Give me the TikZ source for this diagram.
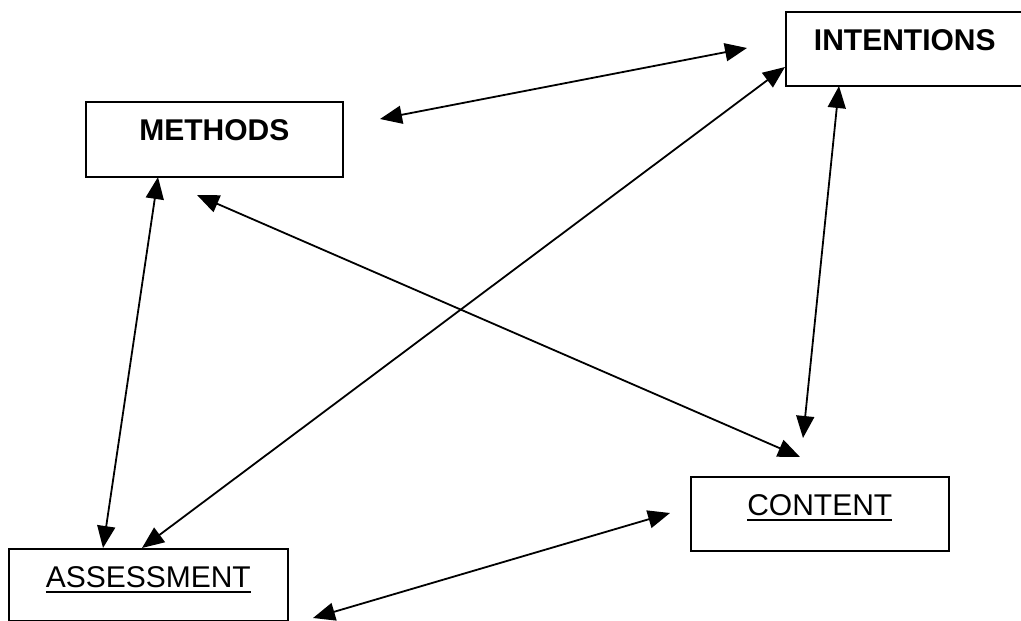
\documentclass[tikz,border=0pt]{standalone}
\usepackage{fontspec}
\setmainfont{Liberation Sans}
\usetikzlibrary{arrows.meta}
\newcommand\myul[1]{\setbox0\hbox{#1}\rlap{\rule[-5.5pt]{\wd0}{2pt}}\box0}
\tikzset{
  box/.style={draw, line width=1.6pt, inner xsep=0pt, inner ysep=0pt,
    font=\fontsize{30}{36}\selectfont, text height=39pt},
  link/.style={line width=1.8pt, {Triangle[length=22pt,width=18pt]}-{Triangle[length=22pt,width=18pt]}}
}
\begin{document}
\begin{tikzpicture}[x=1pt,y=-1pt]
\useasboundingbox (0,0) rectangle (1021,621);
\node[box, minimum width=238pt, text depth=35pt, anchor=north west] (int) at (785,11) {\bfseries INTENTIONS};
\node[box, minimum width=257pt, text depth=36pt, anchor=north west] (met) at (85,101) {\bfseries METHODS};
\node[box, minimum width=258pt, text depth=35pt, anchor=north west] (con) at (690,476) {\myul{CONTENT}};
\node[box, minimum width=279pt, text depth=33pt, anchor=north west] (ass) at (8,548) {\myul{ASSESSMENT}};
% connector ends
\coordinate (m1) at (380,119); \coordinate (i1) at (747,48);
\coordinate (i2) at (785,67);  \coordinate (a2) at (142,548);
\coordinate (i3) at (839,86);  \coordinate (c3) at (803,438);
\coordinate (m4) at (197,195); \coordinate (c4) at (800,457);
\coordinate (m5) at (158,177); \coordinate (a5) at (103,548);
\coordinate (a6) at (313,618); \coordinate (c6) at (670,513);
\draw[link] (m1) -- (i1);
\draw[link] (i2) -- (a2);
\draw[link] (i3) -- (c3);
\draw[link] (m4) -- (c4);
\draw[link] (m5) -- (a5);
\draw[link] (a6) -- (c6);
\end{tikzpicture}
\end{document}
